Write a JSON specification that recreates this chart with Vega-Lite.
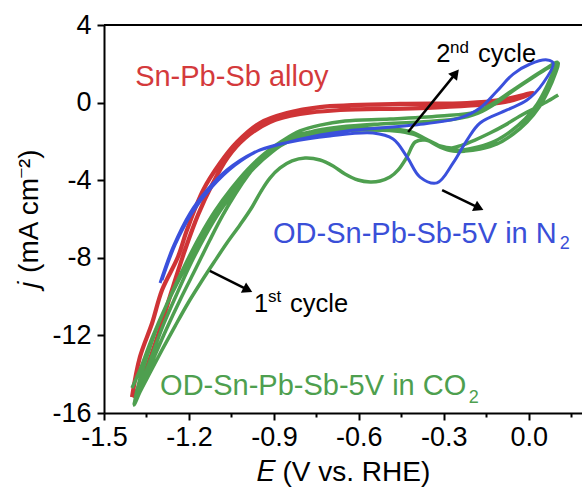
{
 "$schema": "https://vega.github.io/schema/vega-lite/v6.json",
 "width": 478, "height": 388,
 "autosize": {"type": "none"},
 "padding": {"left": 104, "top": 25, "right": 0, "bottom": 79},
 "config": {
  "view": {"stroke": null},
  "font": "Liberation Sans",
  "axis": {"domainColor": "black", "domainWidth": 2, "tickColor": "black", "tickWidth": 2, "labelFont": "Liberation Sans", "labelFontSize": 27, "labelColor": "black", "titleFont": "Liberation Sans", "titleFontSize": 28, "titleFontWeight": "normal", "titleColor": "black", "grid": false, "labelOverlap": false, "labelBound": false, "labelFlush": false}
 },
 "datasets": {
  "red": [
   {"o":1,"x":-1.401,"y":-15.18},{"o":2,"x":-1.373,"y":-13.11},{"o":3,"x":-1.330,"y":-11.36},{"o":4,"x":-1.295,"y":-9.66},{"o":5,"x":-1.239,"y":-7.96},{"o":6,"x":-1.207,"y":-6.57},{"o":7,"x":-1.150,"y":-4.51},{"o":8,"x":-1.090,"y":-3.11},{"o":9,"x":-1.030,"y":-2.03},{"o":10,"x":-0.949,"y":-1.05},{"o":11,"x":-0.854,"y":-0.54},{"o":12,"x":-0.737,"y":-0.23},{"o":13,"x":-0.454,"y":-0.07},{"o":14,"x":-0.218,"y":-0.02},{"o":15,"x":-0.101,"y":0.13},{"o":16,"x":0.015,"y":0.50},
   {"o":17,"x":-0.084,"y":0.03},{"o":18,"x":-0.384,"y":-0.28},{"o":19,"x":-0.666,"y":-0.38},{"o":20,"x":-0.808,"y":-0.59},{"o":21,"x":-0.914,"y":-1.00},{"o":22,"x":-1.002,"y":-1.83},{"o":23,"x":-1.062,"y":-2.80},{"o":24,"x":-1.119,"y":-4.25},{"o":25,"x":-1.168,"y":-5.79},{"o":26,"x":-1.214,"y":-7.60},{"o":27,"x":-1.260,"y":-9.66},{"o":28,"x":-1.309,"y":-11.98},{"o":29,"x":-1.355,"y":-13.89},{"o":30,"x":-1.394,"y":-15.23}
  ],
  "blue": [
   {"o":1,"x":-1.302,"y":-9.30},{"o":2,"x":-1.256,"y":-7.44},{"o":3,"x":-1.196,"y":-5.69},{"o":4,"x":-1.136,"y":-4.51},{"o":5,"x":-1.066,"y":-3.47},{"o":6,"x":-0.974,"y":-2.60},{"o":7,"x":-0.889,"y":-2.19},{"o":8,"x":-0.737,"y":-1.67},{"o":9,"x":-0.642,"y":-1.46},{"o":10,"x":-0.409,"y":-1.16},{"o":11,"x":-0.243,"y":-0.79},{"o":12,"x":-0.172,"y":-0.28},{"o":13,"x":-0.112,"y":0.60},{"o":14,"x":-0.055,"y":1.47},{"o":15,"x":0.005,"y":1.99},{"o":16,"x":0.065,"y":2.20},{"o":17,"x":0.086,"y":2.04},
   {"o":18,"x":0.051,"y":1.01},{"o":19,"x":-0.006,"y":0.13},{"o":20,"x":-0.077,"y":-0.38},{"o":21,"x":-0.172,"y":-1.05},{"o":22,"x":-0.218,"y":-1.93},{"o":23,"x":-0.267,"y":-3.11},{"o":24,"x":-0.324,"y":-4.14},{"o":25,"x":-0.384,"y":-3.84},{"o":26,"x":-0.430,"y":-2.80},{"o":27,"x":-0.479,"y":-1.88},{"o":28,"x":-0.550,"y":-1.57},{"o":29,"x":-0.702,"y":-1.72},{"o":30,"x":-0.843,"y":-2.03},{"o":31,"x":-0.949,"y":-2.44},{"o":32,"x":-1.037,"y":-3.22},{"o":33,"x":-1.119,"y":-4.35},{"o":34,"x":-1.189,"y":-5.69},{"o":35,"x":-1.249,"y":-7.34},{"o":36,"x":-1.295,"y":-9.14}
  ],
  "green": [
   {"o":1,"x":0.104,"y":0.39},{"o":2,"x":0.068,"y":0.08},{"o":3,"x":0.022,"y":-0.28},{"o":4,"x":-0.031,"y":-0.69},{"o":5,"x":-0.084,"y":-1.16},{"o":6,"x":-0.137,"y":-1.57},{"o":7,"x":-0.190,"y":-1.93},{"o":8,"x":-0.235,"y":-2.19},{"o":9,"x":-0.271,"y":-2.34},{"o":10,"x":-0.313,"y":-2.24},{"o":11,"x":-0.366,"y":-1.93},{"o":12,"x":-0.401,"y":-2.03},{"o":13,"x":-0.430,"y":-2.80},{"o":14,"x":-0.461,"y":-3.47},{"o":15,"x":-0.490,"y":-3.84},{"o":16,"x":-0.525,"y":-4.04},{"o":17,"x":-0.560,"y":-4.09},{"o":18,"x":-0.603,"y":-3.99},{"o":19,"x":-0.649,"y":-3.68},{"o":20,"x":-0.691,"y":-3.27},{"o":21,"x":-0.737,"y":-2.96},{"o":22,"x":-0.790,"y":-2.86},{"o":23,"x":-0.836,"y":-3.01},{"o":24,"x":-0.878,"y":-3.37},{"o":25,"x":-0.914,"y":-3.89},{"o":26,"x":-0.945,"y":-4.56},{"o":27,"x":-0.977,"y":-5.38},{"o":28,"x":-1.020,"y":-6.31},{"o":29,"x":-1.066,"y":-7.24},{"o":30,"x":-1.111,"y":-8.22},{"o":31,"x":-1.157,"y":-9.25},{"o":32,"x":-1.203,"y":-10.33},{"o":33,"x":-1.249,"y":-11.52},{"o":34,"x":-1.295,"y":-12.75},{"o":35,"x":-1.338,"y":-13.94},{"o":36,"x":-1.373,"y":-14.92},{"o":37,"x":-1.394,"y":-15.59},
   {"o":38,"x":-1.376,"y":-14.40},{"o":39,"x":-1.352,"y":-13.27},{"o":40,"x":-1.316,"y":-11.72},{"o":41,"x":-1.267,"y":-10.02},{"o":42,"x":-1.214,"y":-8.37},{"o":43,"x":-1.161,"y":-6.88},{"o":44,"x":-1.108,"y":-5.59},{"o":45,"x":-1.051,"y":-4.45},{"o":46,"x":-0.991,"y":-3.42},{"o":47,"x":-0.931,"y":-2.60},{"o":48,"x":-0.871,"y":-1.98},{"o":49,"x":-0.808,"y":-1.46},{"o":50,"x":-0.737,"y":-1.16},{"o":51,"x":-0.649,"y":-0.95},{"o":52,"x":-0.490,"y":-0.85},{"o":53,"x":-0.313,"y":-0.69},{"o":54,"x":-0.190,"y":-0.49},{"o":55,"x":-0.130,"y":-0.07},{"o":56,"x":-0.066,"y":0.55},{"o":57,"x":-0.002,"y":1.17},{"o":58,"x":0.058,"y":1.73},{"o":59,"x":0.100,"y":2.09},
   {"o":60,"x":0.086,"y":1.58},{"o":61,"x":0.061,"y":0.75},{"o":62,"x":0.030,"y":-0.07},{"o":63,"x":-0.013,"y":-0.85},{"o":64,"x":-0.062,"y":-1.46},{"o":65,"x":-0.119,"y":-1.98},{"o":66,"x":-0.179,"y":-2.29},{"o":67,"x":-0.232,"y":-2.44},{"o":68,"x":-0.271,"y":-2.44},{"o":69,"x":-0.313,"y":-2.24},{"o":70,"x":-0.363,"y":-1.88},{"o":71,"x":-0.412,"y":-1.52},{"o":72,"x":-0.472,"y":-1.36},{"o":73,"x":-0.578,"y":-1.31},{"o":74,"x":-0.684,"y":-1.36},{"o":75,"x":-0.772,"y":-1.52},{"o":76,"x":-0.836,"y":-1.77},{"o":77,"x":-0.892,"y":-2.24},{"o":78,"x":-0.942,"y":-2.86},{"o":79,"x":-0.988,"y":-3.68},{"o":80,"x":-1.034,"y":-4.66},{"o":81,"x":-1.080,"y":-5.79},{"o":82,"x":-1.126,"y":-7.08},{"o":83,"x":-1.175,"y":-8.53},{"o":84,"x":-1.228,"y":-10.07},{"o":85,"x":-1.281,"y":-11.72},{"o":86,"x":-1.330,"y":-13.37},{"o":87,"x":-1.369,"y":-14.71},{"o":88,"x":-1.394,"y":-15.54},
   {"o":89,"x":-1.366,"y":-14.40},{"o":90,"x":-1.334,"y":-13.17},{"o":91,"x":-1.295,"y":-11.62},{"o":92,"x":-1.246,"y":-9.97},{"o":93,"x":-1.196,"y":-8.37},{"o":94,"x":-1.143,"y":-6.88},{"o":95,"x":-1.090,"y":-5.59},{"o":96,"x":-1.030,"y":-4.40},{"o":97,"x":-0.970,"y":-3.37},{"o":98,"x":-0.907,"y":-2.55},{"o":99,"x":-0.843,"y":-1.93},{"o":100,"x":-0.772,"y":-1.52},{"o":101,"x":-0.666,"y":-1.26},{"o":102,"x":-0.525,"y":-1.10},{"o":103,"x":-0.384,"y":-1.00},{"o":104,"x":-0.260,"y":-0.85},{"o":105,"x":-0.179,"y":-0.54},{"o":106,"x":-0.115,"y":-0.02},{"o":107,"x":-0.052,"y":0.65},{"o":108,"x":0.012,"y":1.27},{"o":109,"x":0.068,"y":1.78},{"o":110,"x":0.104,"y":2.04},
   {"o":111,"x":0.093,"y":1.47},{"o":112,"x":0.068,"y":0.60},{"o":113,"x":0.037,"y":-0.23},{"o":114,"x":-0.006,"y":-1.00},{"o":115,"x":-0.055,"y":-1.62},{"o":116,"x":-0.112,"y":-2.13},{"o":117,"x":-0.172,"y":-2.39},{"o":118,"x":-0.225,"y":-2.50},{"o":119,"x":-0.267,"y":-2.50},{"o":120,"x":-0.313,"y":-2.29},{"o":121,"x":-0.359,"y":-1.93},{"o":122,"x":-0.409,"y":-1.62},{"o":123,"x":-0.472,"y":-1.46},{"o":124,"x":-0.578,"y":-1.41},{"o":125,"x":-0.684,"y":-1.46},{"o":126,"x":-0.765,"y":-1.62},{"o":127,"x":-0.829,"y":-1.88},{"o":128,"x":-0.885,"y":-2.29},{"o":129,"x":-0.938,"y":-2.86},{"o":130,"x":-0.991,"y":-3.58},{"o":131,"x":-1.048,"y":-4.56},{"o":132,"x":-1.104,"y":-5.74},{"o":133,"x":-1.161,"y":-7.08},{"o":134,"x":-1.221,"y":-8.73},{"o":135,"x":-1.281,"y":-10.48},{"o":136,"x":-1.330,"y":-12.13},{"o":137,"x":-1.373,"y":-13.78},{"o":138,"x":-1.401,"y":-14.71}
  ],
  "arrows": [
   {"x":-0.426,"y":-1.515,"x2":-0.258,"y2":1.505,"angle":39},
   {"x":-0.306,"y":-4.51,"x2":-0.176,"y2":-5.43,"angle":116},
   {"x":-1.126,"y":-8.68,"x2":-0.992,"y2":-9.65,"angle":117}
  ],
  "labels": [
   {"text":"Sn-Pb-Sb alloy","x":-1.390,"y":0.856,"series":"alloy"},
   {"text":"OD-Sn-Pb-Sb-5V in N","x":-0.903,"y":-7.237,"series":"N2"},
   {"text":"OD-Sn-Pb-Sb-5V in CO","x":-1.302,"y":-15.072,"series":"CO2"}
  ],
  "subs": [
   {"text":"2","x":0.109,"y":-7.546,"series":"N2"},
   {"text":"2","x":-0.212,"y":-15.484,"series":"CO2"}
  ],
  "notes": [
   {"text":"2","x":-0.327,"y":2.093},
   {"text":"cycle","x":-0.179,"y":2.093},
   {"text":"1","x":-0.970,"y":-10.794},
   {"text":"cycle","x":-0.843,"y":-10.794}
  ],
  "sups": [
   {"text":"nd","x":-0.278,"y":2.557},
   {"text":"st","x":-0.921,"y":-10.278}
  ]
 },
 "layer": [
  {
   "data": {"name": "red"},
   "mark": {"type": "line", "color": "#cf3436", "strokeWidth": 4.2, "interpolate": "catmull-rom"},
   "encoding": {
    "x": {"field": "x", "type": "quantitative", "scale": {"domain": [-1.5, 0.188], "nice": false, "zero": false},
     "axis": {"title": "𝐸 (V vs. RHE)", "values": [-1.5,-1.35,-1.2,-1.05,-0.9,-0.75,-0.6,-0.45,-0.3,-0.15,0,0.15],
      "tickSize": {"condition": {"test": "abs(round(datum.value*100)) % 30 == 0", "value": 7}, "value": 4},
      "labelExpr": "abs(round(datum.value*100)) % 30 == 0 ? replace(format(datum.value, '.1f'), '\u2212', '-') : ''",
      "labelPadding": 4, "titlePadding": 8}},
    "y": {"field": "y", "type": "quantitative", "scale": {"domain": [-16, 4], "nice": false, "zero": false},
     "axis": {"title": "𝑗 (mA cm⁻²)", "values": [4,2,0,-2,-4,-6,-8,-10,-12,-14,-16],
      "tickSize": {"condition": {"test": "datum.value % 4 == 0", "value": 7}, "value": 4},
      "labelExpr": "datum.value % 4 == 0 ? replace(format(datum.value, 'd'), '\u2212', '-') : ''",
      "labelPadding": 6, "titlePadding": 8}},
    "order": {"field": "o", "type": "quantitative"}
   }
  },
  {
   "data": {"name": "green"},
   "mark": {"type": "line", "color": "#4e9f4f", "strokeWidth": 3.5, "interpolate": "catmull-rom"},
   "encoding": {
    "x": {"field": "x", "type": "quantitative"},
    "y": {"field": "y", "type": "quantitative"},
    "order": {"field": "o", "type": "quantitative"}
   }
  },
  {
   "data": {"name": "blue"},
   "mark": {"type": "line", "color": "#3a50dc", "strokeWidth": 3, "interpolate": "catmull-rom"},
   "encoding": {
    "x": {"field": "x", "type": "quantitative"},
    "y": {"field": "y", "type": "quantitative"},
    "order": {"field": "o", "type": "quantitative"}
   }
  },
  {
   "data": {"values": [{}]},
   "mark": {"type": "rule", "color": "black", "strokeWidth": 2},
   "encoding": {"y": {"datum": 4, "type": "quantitative"}}
  },
  {
   "data": {"name": "arrows"},
   "mark": {"type": "rule", "color": "black", "strokeWidth": 2.5},
   "encoding": {
    "x": {"field": "x", "type": "quantitative"},
    "y": {"field": "y", "type": "quantitative"},
    "x2": {"field": "x2"},
    "y2": {"field": "y2"}
   }
  },
  {
   "data": {"name": "arrows"},
   "mark": {"type": "point", "shape": "triangle-up", "filled": true, "color": "black", "size": 130, "opacity": 1},
   "encoding": {
    "x": {"field": "x2", "type": "quantitative"},
    "y": {"field": "y2", "type": "quantitative"},
    "angle": {"field": "angle", "type": "quantitative", "scale": null}
   }
  },
  {
   "data": {"name": "labels"},
   "mark": {"type": "text", "fontSize": 29, "align": "left", "baseline": "alphabetic", "font": "Liberation Sans"},
   "encoding": {
    "x": {"field": "x", "type": "quantitative"},
    "y": {"field": "y", "type": "quantitative"},
    "text": {"field": "text"},
    "color": {"field": "series", "type": "nominal", "scale": {"domain": ["alloy", "N2", "CO2"], "range": ["#d43a3c", "#3a4fd8", "#4e9f4f"]}, "legend": null}
   }
  },
  {
   "data": {"name": "subs"},
   "mark": {"type": "text", "fontSize": 18, "align": "left", "baseline": "alphabetic", "font": "Liberation Sans"},
   "encoding": {
    "x": {"field": "x", "type": "quantitative"},
    "y": {"field": "y", "type": "quantitative"},
    "text": {"field": "text"},
    "color": {"field": "series", "type": "nominal", "legend": null}
   }
  },
  {
   "data": {"name": "notes"},
   "mark": {"type": "text", "fontSize": 25.5, "align": "left", "baseline": "alphabetic", "color": "black", "font": "Liberation Sans"},
   "encoding": {
    "x": {"field": "x", "type": "quantitative"},
    "y": {"field": "y", "type": "quantitative"},
    "text": {"field": "text"}
   }
  },
  {
   "data": {"name": "sups"},
   "mark": {"type": "text", "fontSize": 17, "align": "left", "baseline": "alphabetic", "color": "black", "font": "Liberation Sans"},
   "encoding": {
    "x": {"field": "x", "type": "quantitative"},
    "y": {"field": "y", "type": "quantitative"},
    "text": {"field": "text"}
   }
  }
 ]
}
